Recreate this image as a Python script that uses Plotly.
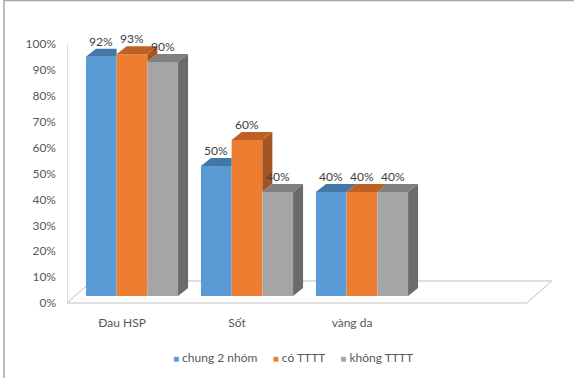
import plotly.graph_objects as go

# ---------------- data ----------------
categories = ["Đau HSP", "Sốt", "vàng da"]
series_names = ["chung 2 nhóm", "có TTTT", "không TTTT"]
chung_2_nhom = [0.92, 0.50, 0.40]
co_tttt = [0.93, 0.60, 0.40]
khong_tttt = [0.90, 0.40, 0.40]
y_tick_vals = [0, 0.1, 0.2, 0.3, 0.4, 0.5, 0.6, 0.7, 0.8, 0.9, 1.0]
y_tick_text = ["0%", "10%", "20%", "30%", "40%", "50%", "60%", "70%", "80%", "90%", "100%"]

series = [chung_2_nhom, co_tttt, khong_tttt]

# ---------------- style ----------------
front_cols = ["#5B9BD5", "#ED7D31", "#A5A5A5"]
top_cols = ["#4477A6", "#BE6022", "#808080"]
side_cols = ["#3B6790", "#A65420", "#6B6B6B"]
TEXT = "#595959"
FONT = "Lato"

W, H = 574, 378
L, R, T, B = 67, 14, 20, 68
BAR_W = 0.267      # bar width in category units
DX = 0.087         # depth offset (x) in category units
DY = 0.0308        # depth offset (y) in value units

fig = go.Figure()

# floor of the 3-D plot (on the label axes)
n = len(categories)
fl_left, fl_right = -0.478, n + 0.52
fl_dx, fl_dy = 0.217, 0.085
fig.add_trace(go.Scatter(
    x=[fl_left, fl_right, fl_right + fl_dx, fl_left + fl_dx, fl_left],
    y=[0, 0, fl_dy, fl_dy, 0],
    mode="lines", fill="toself", fillcolor="white",
    line=dict(color="#BFBFBF", width=1), hoverinfo="skip", showlegend=False,
    xaxis="x", yaxis="y"))

# front faces as bars
for j, vals in enumerate(series):
    fig.add_trace(go.Bar(
        x=[i + (j - 1) * BAR_W for i in range(n)], y=vals, width=BAR_W,
        name=series_names[j],
        marker=dict(color=front_cols[j], line=dict(width=0)),
        showlegend=False, hoverinfo="skip", xaxis="x2", yaxis="y2"))

# top and side faces
def poly(pts, col):
    xs = [p[0] for p in pts] + [pts[0][0]]
    ys = [p[1] for p in pts] + [pts[0][1]]
    fig.add_trace(go.Scatter(x=xs, y=ys, mode="lines", fill="toself",
                             fillcolor=col, line=dict(width=0, color=col),
                             hoverinfo="skip", showlegend=False,
                             xaxis="x2", yaxis="y2"))

annotations = []
for i in range(n):
    for j, vals in enumerate(series):
        h = vals[i]
        x0 = i + (j - 1.5) * BAR_W
        x1 = x0 + BAR_W
        hn = series[j + 1][i] if j + 1 < len(series) else None
        if hn is not None and hn > h:
            top = [(x0, h), (x1, h), (x1, h + DY), (x0 + DX, h + DY)]
        else:
            top = [(x0, h), (x1, h), (x1 + DX, h + DY), (x0 + DX, h + DY)]
        poly(top, top_cols[j])
        if hn is None:
            poly([(x1, 0), (x1, h), (x1 + DX, h + DY), (x1 + DX, DY)], side_cols[j])
        elif hn < h:
            poly([(x1, hn), (x1, h), (x1 + DX, h + DY), (x1 + DX, hn + DY)], side_cols[j])
        annotations.append(dict(
            x=(x0 + x1) / 2, y=h, xref="x2", yref="y2", text=f"{round(h * 100)}%",
            showarrow=False, yanchor="bottom", yshift=6,
            font=dict(family=FONT, size=12, color="#404040")))

# legend (compact, Excel style): coloured square + name
gap = "&nbsp;" * 5
legend_text = gap.join(
    f"<span style='color:{c};font-size:10px'>■</span> {name}"
    for c, name in zip(front_cols, series_names))
annotations.append(dict(
    text=legend_text, xref="paper", yref="paper",
    x=(293 - L) / (W - L - R), y=(H - B - 358) / (H - T - B),
    xanchor="center", yanchor="middle", showarrow=False,
    font=dict(family=FONT, size=12, color=TEXT)))

x_lab_range = [(L - 122) / 115, (W - R - 122) / 115]
x_bar_range = [(L - 132) / 115, (W - R - 132) / 115]
y_lab_range = [(303 - (H - B)) / 259, (303 - T) / 259]
y_bar_range = [(296 - (H - B)) / 260, (296 - T) / 260]

shapes = [
    dict(type="line", xref="x", yref="y", x0=fl_left, x1=fl_left, y0=0, y1=1,
         line=dict(color="#BFBFBF", width=1)),
    # chart border (left and top)
    dict(type="line", xref="paper", yref="paper",
         x0=(4 - L) / (W - L - R), x1=(4 - L) / (W - L - R),
         y0=(H - B - 0) / (H - T - B), y1=(H - B - H) / (H - T - B),
         line=dict(color="#A6A6A6", width=1.5)),
    dict(type="line", xref="paper", yref="paper",
         x0=(4 - L) / (W - L - R), x1=(W - L) / (W - L - R),
         y0=(H - B - 0.5) / (H - T - B), y1=(H - B - 0.5) / (H - T - B),
         line=dict(color="#A6A6A6", width=1.5)),
]

fig.update_layout(
    width=W, height=H,
    margin=dict(l=L, r=R, t=T, b=B),
    paper_bgcolor="white", plot_bgcolor="white",
    font=dict(family=FONT, size=12, color=TEXT),
    barmode="overlay",
    xaxis=dict(range=x_lab_range, tickvals=list(range(n)), ticktext=categories,
               showgrid=False, zeroline=False, showline=False, ticks="",
               ticklabelstandoff=4, fixedrange=True),
    yaxis=dict(range=y_lab_range, tickvals=y_tick_vals, ticktext=y_tick_text,
               showgrid=False, zeroline=False, showline=False, ticks="",
               ticklabelstandoff=10, fixedrange=True),
    xaxis2=dict(range=x_bar_range, overlaying="x", anchor="y2", visible=False),
    yaxis2=dict(range=y_bar_range, overlaying="y", anchor="x2", visible=False),
    annotations=annotations,
    shapes=shapes,
    showlegend=False,
)

fig.write_html("out.html")
